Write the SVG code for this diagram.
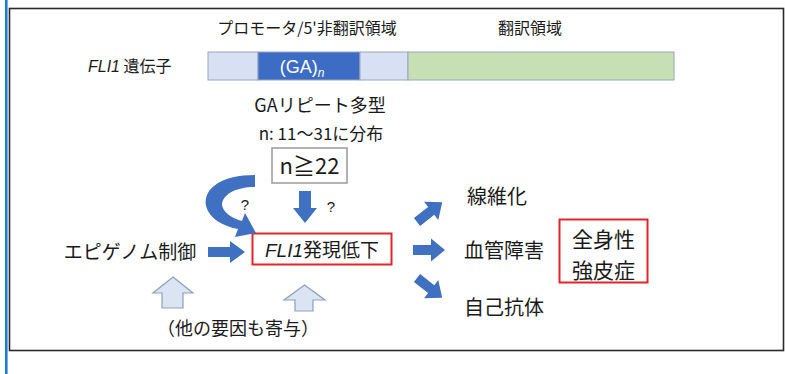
<svg xmlns="http://www.w3.org/2000/svg" width="785" height="374" viewBox="0 0 785 374">
<style>
.t{font-family:"Noto Sans CJK JP","Noto Sans",sans-serif;fill:#1a1a1a}
.l{font-family:"Liberation Sans","Noto Sans CJK JP",sans-serif;fill:#1a1a1a}
.i{font-style:italic;font-family:"Liberation Sans",sans-serif}
.seg{stroke:#9aa6b8;stroke-width:1}
.blk{fill:#3f70c2}
.hol{fill:#dbe4f3;stroke:#8c9fbd;stroke-width:1.2}
.red{fill:#fff;stroke:#e0262b;stroke-width:2}
</style>
<defs>
<polygon id="ar" points="0,-5 18,-5 18,-11.5 32,0 18,11.5 18,5 0,5"/>
</defs>
<rect x="0" y="0" width="785" height="374" fill="#fff"/>
<line x1="6.3" y1="0" x2="6.3" y2="374" stroke="#1f7bd0" stroke-width="2.6"/>
<rect x="9.5" y="8.5" width="774" height="342" fill="none" stroke="#2a2a2a" stroke-width="1.6"/>

<g id="header">
<text class="t" x="307" y="34" font-size="16" text-anchor="middle">プロモータ/5'非翻訳領域</text>
<text class="t" x="530" y="34" font-size="16" text-anchor="middle">翻訳領域</text>
</g>

<g id="gene">
<text class="t" x="88" y="72" font-size="16"><tspan class="i">FLI1</tspan> 遺伝子</text>
<rect class="seg" x="208" y="52" width="50" height="28" fill="#d7e1f3"/>
<rect class="seg" x="258" y="52" width="102" height="28" fill="#3c6cc4"/>
<rect class="seg" x="360" y="52" width="48" height="28" fill="#d7e1f3"/>
<rect class="seg" x="408" y="52" width="266" height="28" fill="#c6e0b4"/>
<text class="l" x="302" y="73" font-size="18" text-anchor="middle" style="fill:#fff">(GA)<tspan class="i" font-size="12" dy="4">n</tspan></text>
</g>

<g id="polymorphism">
<text class="t" x="320" y="112" font-size="18" text-anchor="middle">GAリピート多型</text>
<text class="t" x="321" y="139.5" font-size="17" text-anchor="middle">n: 11～31に分布</text>
</g>

<g id="n22">
<rect x="272" y="148" width="75" height="35" fill="#fff" stroke="#9a9a9a" stroke-width="1.5"/>
<text class="t" x="309.5" y="173.5" font-size="22" text-anchor="middle">n≧22</text>
</g>

<g id="epigenome">
<text class="t" x="130" y="259" font-size="19" text-anchor="middle">エピゲノム制御</text>
</g>

<g id="fli1down">
<rect class="red" x="252.5" y="233.5" width="139" height="31"/>
<text class="t" x="322" y="256.5" font-size="19" text-anchor="middle"><tspan class="i">FLI1</tspan>発現低下</text>
</g>

<g id="others">
<text class="t" x="238" y="335" font-size="18" text-anchor="middle">（他の要因も寄与）</text>
</g>

<g id="fibrosis"><text class="t" x="497" y="204" font-size="20" text-anchor="middle">線維化</text></g>
<g id="vascular"><text class="t" x="504" y="257.5" font-size="20" text-anchor="middle">血管障害</text></g>
<g id="autoab"><text class="t" x="504" y="314.5" font-size="20" text-anchor="middle">自己抗体</text></g>

<g id="ssc">
<rect class="red" x="559.5" y="219.5" width="88" height="63"/>
<text class="t" x="603.5" y="247" font-size="21" text-anchor="middle">全身性</text>
<text class="t" x="603.5" y="278" font-size="21" text-anchor="middle">強皮症</text>
</g>

<g id="connectors">
<path class="blk" d="M255,175 C222,175 203,188 206,206 C209,218 222,226 238,229 L235,237 L256,233 L245,213 L242,221 C231,218 223,212 222,205 C222,195 235,187 255,187 Z"/>
<polygon class="blk" points="299,191 311,191 311,208 317,208 305,223 293,208 299,208"/>
<polygon class="blk" points="208,247 230,247 230,241 245,252 230,263 230,257 208,257"/>
<use href="#ar" class="blk" transform="translate(417,222) rotate(-38)"/>
<use href="#ar" class="blk" transform="translate(413,250)"/>
<use href="#ar" class="blk" transform="translate(417,278) rotate(38)"/>
<polygon class="hol" points="173,277 193,293 183,293 183,308 162,308 162,293 153,293"/>
<polygon class="hol" points="304.5,285 325,300 313,300 313,311 295,311 295,300 284,300"/>
<text class="l" x="245" y="210" font-size="15" text-anchor="middle">?</text>
<text class="l" x="331" y="212" font-size="15" text-anchor="middle">?</text>
</g>
</svg>
